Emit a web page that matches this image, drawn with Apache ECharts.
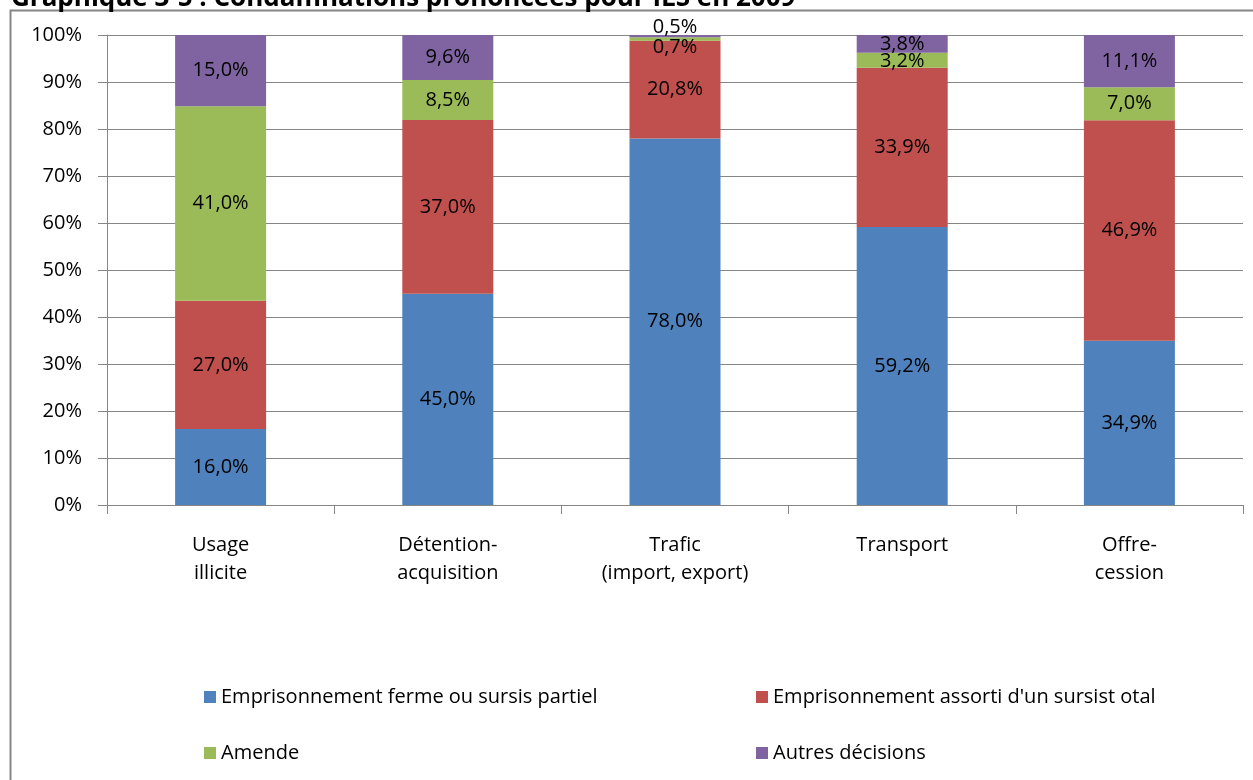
<!DOCTYPE html>
<html><head><meta charset="utf-8">
<script src="https://cdn.jsdelivr.net/npm/echarts@6/dist/echarts.min.js"></script>
<style>html,body{margin:0;padding:0;background:#fff}#c{width:1253px;height:780px}</style>
</head><body><div id="c"></div>
<script>
const categories = ["Usage\nillicite", "Détention-\nacquisition", "Trafic\n(import, export)", "Transport", "Offre-\ncession"];
const seriesNames = ["Emprisonnement ferme ou sursis partiel", "Emprisonnement assorti d'un sursist otal", "Amende", "Autres décisions"];
const emprisonnementFerme = [16.0, 45.0, 78.0, 59.2, 34.9];
const emprisonnementSursis = [27.0, 37.0, 20.8, 33.9, 46.9];
const amende = [41.0, 8.5, 0.7, 3.2, 7.0];
const autres = [15.0, 9.6, 0.5, 3.8, 11.1];
const yTicks = ["0%", "10%", "20%", "30%", "40%", "50%", "60%", "70%", "80%", "90%", "100%"];
const colors = ["#4F81BD", "#C0504D", "#9BBB59", "#8064A2"];

const FONT = "Open Sans";
const FS = 20;
const raw = [emprisonnementFerme, emprisonnementSursis, amende, autres];
const totals = categories.map((c, i) => raw.reduce((s, arr) => s + arr[i], 0));

// small-segment label nudges (as Excel does to avoid overlap)
function labelOffset(k, i) {
  if (i === 2 && k === 3) return [0, -9];
  if (i === 2 && k === 2) return [0, 8];
  if (i === 3 && k === 2) return [0, 1];
  return [0, 0];
}

const chart = echarts.init(document.getElementById('c'), null, {renderer: 'canvas'});
const series = raw.map((arr, k) => ({
  name: seriesNames[k],
  type: 'bar',
  stack: 'total',
  barWidth: 91,
  itemStyle: {color: colors[k]},
  data: arr.map((v, i) => ({value: v / totals[i] * 100, raw: v, label: {offset: labelOffset(k, i)}})),
  label: {
    show: true, position: 'inside', color: '#000', fontFamily: FONT, fontSize: FS,
    formatter: p => p.data.raw.toFixed(1).replace('.', ',') + '%'
  }
}));
const legendPos = [[199, 682], [751, 682], [199, 738], [751, 738]];
chart.setOption({
  animation: false,
  textStyle: {fontFamily: FONT},
  grid: {left: 107, right: 10, top: 35, bottom: 275, containLabel: false},
  xAxis: {
    type: 'category', data: categories,
    axisLine: {lineStyle: {color: '#868686'}},
    axisTick: {show: true, length: 9, lineStyle: {color: '#868686'}},
    axisLabel: {color: '#000', fontSize: FS, fontFamily: FONT, margin: 26, lineHeight: 28}
  },
  yAxis: {
    type: 'value', min: 0, max: 100, interval: 10,
    axisLine: {show: true, lineStyle: {color: '#868686'}},
    axisTick: {show: true, length: 9, lineStyle: {color: '#868686'}},
    splitLine: {lineStyle: {color: '#868686'}},
    axisLabel: {color: '#000', fontSize: FS, fontFamily: FONT, margin: 25,
      formatter: v => yTicks[Math.round(v / 10)]}
  },
  legend: seriesNames.map((n, k) => ({
    data: [n], left: legendPos[k][0], top: legendPos[k][1],
    itemWidth: 12, itemHeight: 12, icon: 'rect', itemGap: 5,
    textStyle: {color: '#000', fontSize: FS, fontFamily: FONT}
  })),
  graphic: [
    {type: 'rect', shape: {x: 10.5, y: 10.5, width: 1300, height: 900}, style: {fill: 'none', stroke: '#868686', lineWidth: 2}, z: -1},
    {type: 'text', x: 11, y: 12, style: {text: 'Graphique 3-5 : Condamnations prononcées pour ILS en 2009', font: 'bold 26px ' + FONT, fill: '#000', verticalAlign: 'bottom'}}
  ],
  series: series
});
</script></body></html>
